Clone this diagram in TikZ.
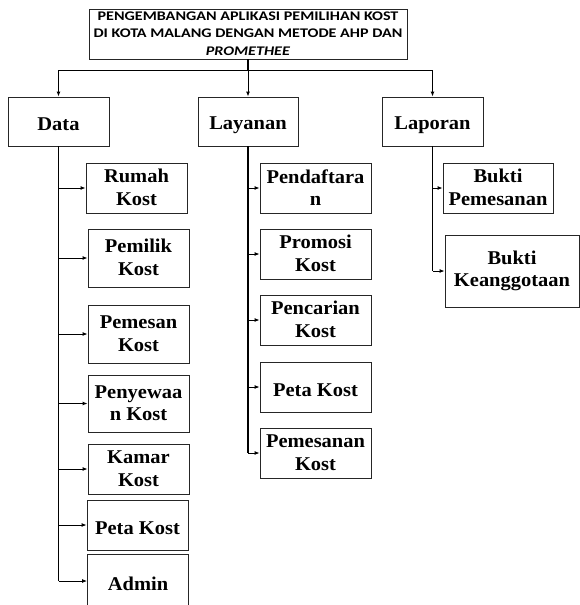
\documentclass[tikz,border=0pt]{standalone}
\usepackage{fontspec}
\setmainfont{Liberation Serif}[FakeStretch=1.05]
\newfontfamily\titlefont{Carlito}[FakeStretch=1.22]
\usetikzlibrary{arrows.meta}
\newcommand{\boxstrut}{\rule[-1pt]{0pt}{20.5pt}}
\newcommand{\titlestrut}{\rule[-1pt]{0pt}{13.4pt}}
\tikzset{
  box/.style={draw=black!85, line width=0.9pt, inner sep=0pt, align=center,
    font=\fontsize{19.5}{22.7}\selectfont\bfseries,
    execute at begin node=\boxstrut, execute at end node=\boxstrut},
  titlebox/.style={draw=black!85, line width=0.9pt, inner sep=0pt, align=center,
    font=\titlefont\fontsize{13.2}{17.7}\selectfont\bfseries,
    execute at begin node=\titlestrut, execute at end node=\titlestrut},
  trunk/.style={line width=1.8pt, black},
  link/.style={line width=0.9pt, black},
  arr/.style={line width=0.9pt, black, -{Latex[length=5pt,width=4pt]}},
}
\begin{document}
\begin{tikzpicture}[x=1pt,y=-1pt]
\useasboundingbox (0,0) rectangle (580,605);
% title
\node[titlebox, minimum width=318pt, minimum height=50pt] (title) at (248,34)
  {PENGEMBANGAN APLIKASI PEMILIHAN KOST\\DI KOTA MALANG DENGAN METODE AHP DAN\\\textit{PROMETHEE}};
% level 1
\node[box, minimum width=101pt, minimum height=49pt] (data) at (58.5,121.5) {Data};
\node[box, minimum width=100pt, minimum height=49pt] (layanan) at (248,121.5) {Layanan};
\node[box, minimum width=101pt, minimum height=49pt] (laporan) at (432.5,121.5) {Laporan};
% data children
\node[box, minimum width=101pt, minimum height=50pt] (rumah) at (136.5,188) {Rumah\\Kost};
\node[box, minimum width=101pt, minimum height=58pt] (pemilik) at (138.5,258) {Pemilik\\Kost};
\node[box, minimum width=101pt, minimum height=58pt] (pemesan) at (138.5,334) {Pemesan\\Kost};
\node[box, minimum width=101pt, minimum height=57pt] (penyewaan) at (138.5,403.5) {Penyewaa\\n Kost};
\node[box, minimum width=101pt, minimum height=50pt] (kamar) at (138.5,469) {Kamar\\Kost};
\node[box, minimum width=101pt, minimum height=50pt] (petad) at (137.5,525) {Peta Kost};
\node[box, minimum width=101pt, minimum height=54pt] (admin) at (138,581) {Admin};
% layanan children
\node[box, minimum width=111pt, minimum height=50pt] (daftar) at (315.5,188) {Pendaftara\\n};
\node[box, minimum width=111pt, minimum height=50pt] (promosi) at (315.5,254) {Promosi\\Kost};
\node[box, minimum width=111pt, minimum height=50pt] (cari) at (315.5,320) {Pencarian\\Kost};
\node[box, minimum width=111pt, minimum height=50pt] (petal) at (315.5,387) {Peta Kost};
\node[box, minimum width=111pt, minimum height=50pt] (pesan) at (315.5,453) {Pemesanan\\Kost};
% laporan children
\node[box, minimum width=110pt, minimum height=50pt] (bpesan) at (498,188) {Bukti\\Pemesanan};
\node[box, minimum width=134pt, minimum height=72pt] (bang) at (512,271) {Bukti\\Keanggotaan};
% top connectors
\coordinate (hub) at (248,70);
\draw[line width=1.3pt] (title.south) -- (hub);
\draw[arr] (hub) -| (data.north);
\draw[arr] (hub) -- (layanan.north);
\draw[arr] (hub) -| (laporan.north);
% data trunk
\draw[trunk] (data.south) -- (data.south |- admin.west);
\foreach \n in {rumah,pemilik,pemesan,penyewaan,kamar,petad,admin}
  \draw[arr] (data.south |- \n.west) -- (\n.west);
% layanan trunk
\draw[trunk] (layanan.south) -- (layanan.south |- pesan.west);
\foreach \n in {daftar,promosi,cari,petal,pesan}
  \draw[arr] (layanan.south |- \n.west) -- (\n.west);
% laporan trunk
\draw[link] (laporan.south) -- (laporan.south |- bang.west);
\foreach \n in {bpesan,bang}
  \draw[arr] (laporan.south |- \n.west) -- (\n.west);
\end{tikzpicture}
\end{document}
